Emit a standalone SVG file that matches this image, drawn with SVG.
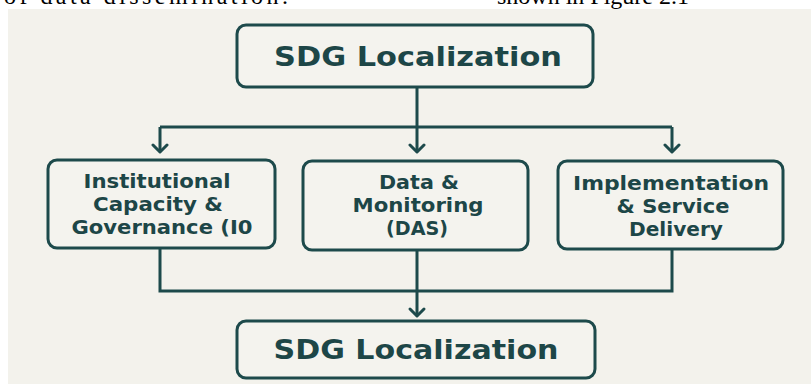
<svg xmlns="http://www.w3.org/2000/svg" width="811" height="384" viewBox="0 0 811 384">
<defs>
<style>
.bg{fill:#f3f2ec}
.box{fill:#f4f3ee;stroke:#1d4a4b;stroke-width:3}
.ln{fill:none;stroke:#1d4a4b;stroke-width:3}
.hd{fill:none;stroke:#1d4a4b;stroke-width:3;stroke-linecap:round;stroke-linejoin:round}
.t{font-family:"DejaVu Sans","Liberation Sans",sans-serif;font-weight:700;fill:#1d4647;text-anchor:middle}
.big{font-size:26px}
.sm{font-size:19px}
.doc{font-family:"Liberation Serif",serif;font-size:24px;fill:#000}
</style>
</defs>
<rect x="0" y="0" width="811" height="384" fill="#ffffff"/>
<rect class="bg" x="8" y="9" width="803" height="375"/>
<text class="doc" x="4" y="4" textLength="284" lengthAdjust="spacing">of data dissemination.</text>
<text class="doc" x="497" y="4">shown in Figure 2.1</text>
<g id="connectors">
<path class="ln" d="M417 87 V127 M160 127 H672 M160 127 V152 M417 127 V152 M672 127 V152"/>
<path class="hd" d="M153 145 L160 152 L167 145 M410 145 L417 152 L424 145 M665 145 L672 152 L679 145"/>
<path class="ln" d="M160 248 V291 H672 V249 M417 250 V316"/>
<path class="hd" d="M410 309 L417 316 L424 309"/>
</g>
<g id="top">
<rect class="box" x="237" y="25" width="356" height="62" rx="9"/>
<text class="t big" x="418" y="66" textLength="288" lengthAdjust="spacingAndGlyphs">SDG Localization</text>
</g>
<g id="institutional">
<rect class="box" x="48" y="160" width="227" height="88" rx="9"/>
<text class="t sm" x="157" y="188" textLength="147" lengthAdjust="spacingAndGlyphs">Institutional</text>
<text class="t sm" x="158" y="211" textLength="130" lengthAdjust="spacingAndGlyphs">Capacity &amp;</text>
<text class="t sm" x="162" y="234" textLength="181" lengthAdjust="spacingAndGlyphs">Governance (I0</text>
</g>
<g id="data">
<rect class="box" x="303" y="161" width="225" height="89" rx="9"/>
<text class="t sm" x="419" y="189" textLength="80" lengthAdjust="spacingAndGlyphs">Data &amp;</text>
<text class="t sm" x="418" y="212" textLength="131" lengthAdjust="spacingAndGlyphs">Monitoring</text>
<text class="t sm" x="417" y="235" textLength="62" lengthAdjust="spacingAndGlyphs">(DAS)</text>
</g>
<g id="implementation">
<rect class="box" x="558" y="161" width="225" height="88" rx="9"/>
<text class="t sm" x="671" y="190" textLength="196" lengthAdjust="spacingAndGlyphs">Implementation</text>
<text class="t sm" x="673" y="213" textLength="113" lengthAdjust="spacingAndGlyphs">&amp; Service</text>
<text class="t sm" x="676" y="236" textLength="94" lengthAdjust="spacingAndGlyphs">Delivery</text>
</g>
<g id="bottom">
<rect class="box" x="237" y="321" width="358" height="57" rx="9"/>
<text class="t big" x="416" y="359" textLength="285" lengthAdjust="spacingAndGlyphs">SDG Localization</text>
</g>
</svg>
